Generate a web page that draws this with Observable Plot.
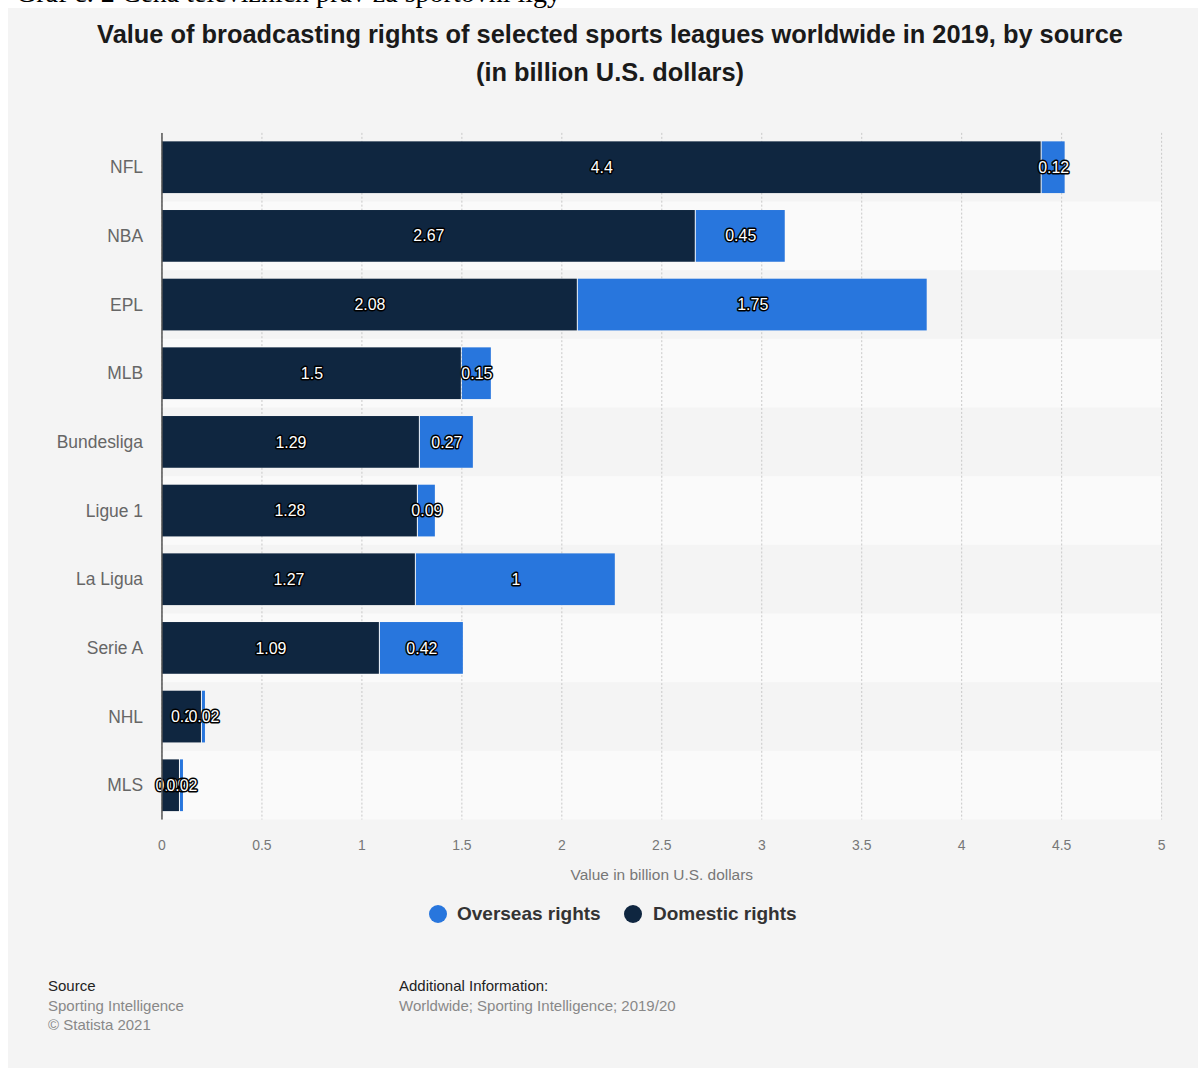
<!DOCTYPE html>
<html>
<head>
<meta charset="utf-8">
<script src="https://cdn.jsdelivr.net/npm/d3@7"></script>
<script src="https://cdn.jsdelivr.net/npm/@observablehq/plot@0.6"></script>
<style>
  html, body { margin: 0; padding: 0; background: #fff; }
  body { width: 1202px; height: 1070px; position: relative; overflow: hidden; font-family: "Liberation Sans", Arial, sans-serif; }
  #doc { position: absolute; left: 16px; top: -23px; font-family: "Liberation Serif", serif; font-size: 28px; line-height: 32px; color: #000; white-space: nowrap; }
  #panel { position: absolute; left: 8px; top: 8px; width: 1190px; height: 1060px; background: #f4f4f4; }
  #title { position: absolute; left: 0; top: 7px; width: 1204px; text-align: center; font-weight: bold; font-size: 25.4px; line-height: 38px; color: #1a1a1a; }
  #chart { position: absolute; left: -8px; top: 90px; }
  .li { position: absolute; font-weight: bold; font-size: 19px; color: #333; line-height: 20px; }
  .dot { position: absolute; width: 18px; height: 18px; border-radius: 50%; }
  .foot { position: absolute; font-size: 15px; line-height: 19.5px; color: #888; }
  .foot b { font-weight: normal; color: #222; }
</style>
</head>
<body>
<div id="doc">Graf č. 2 Cena televizních práv za sportovní ligy</div>
<div id="panel">
  <div id="title">Value of broadcasting rights of selected sports leagues worldwide in 2019, by source<br>(in billion U.S. dollars)</div>
  <div id="chart"></div>
  <div class="dot" style="left:421px; top:897px; background:#2876dd;"></div>
  <div class="li" style="left:449px; top:896px;">Overseas rights</div>
  <div class="dot" style="left:616px; top:897px; background:#0f2640;"></div>
  <div class="li" style="left:645px; top:896px;">Domestic rights</div>
  <div class="foot" style="left:40px; top:968px;"><b>Source</b><br>Sporting Intelligence<br>© Statista 2021</div>
  <div class="foot" style="left:391px; top:968px;"><b>Additional Information:</b><br>Worldwide; Sporting Intelligence; 2019/20</div>
</div>
<script>
const leagues = ["NFL", "NBA", "EPL", "MLB", "Bundesliga", "Ligue 1", "La Ligua", "Serie A", "NHL", "MLS"];
const domestic = [4.4, 2.67, 2.08, 1.5, 1.29, 1.28, 1.27, 1.09, 0.2, 0.09];
const overseas = [0.12, 0.45, 1.75, 0.15, 0.27, 0.09, 1, 0.42, 0.02, 0.02];
const xTicks = [0, 0.5, 1, 1.5, 2, 2.5, 3, 3.5, 4, 4.5, 5];
const seriesNames = ["Domestic rights", "Overseas rights"];
const seriesColors = ["#0f2640", "#2876dd"];

const rows = [];
leagues.forEach((l, i) => {
  rows.push({league: l, series: seriesNames[0], x1: 0, x2: domestic[i], v: domestic[i]});
  rows.push({league: l, series: seriesNames[1], x1: domestic[i], x2: domestic[i] + overseas[i], v: overseas[i]});
});
const stripes = leagues.map((l, i) => ({league: l, odd: i % 2 === 1}));

const chart = Plot.plot({
  width: 1202,
  height: 800,
  marginLeft: 162,
  marginRight: 37,
  marginTop: 35,
  marginBottom: 76,
  style: {background: "transparent", fontFamily: "Liberation Sans, Arial, sans-serif"},
  x: {domain: [0, 5], ticks: xTicks, tickFormat: d => String(d), label: null},
  y: {domain: leagues, paddingInner: 0, paddingOuter: 0, round: false, label: null},
  color: {domain: seriesNames, range: seriesColors},
  marks: [
    Plot.barX(stripes.filter(d => d.odd), {x1: 0, x2: 5, y: "league", fill: "#fafafa"}),
    Plot.gridX(xTicks, {stroke: "#c8c8c8", strokeOpacity: 1, strokeDasharray: "2,2"}),
    Plot.barX(rows, {x1: "x1", x2: "x2", y: "league", fill: "series", insetTop: 8.5, insetBottom: 8.5, insetLeft: 0.5, insetRight: 0.5}),
    Plot.text(rows, {x: d => (d.x1 + d.x2) / 2, y: "league", text: d => String(d.v), fill: "white", stroke: "black", strokeWidth: 3, fontSize: 16, textAnchor: "middle"}),
    Plot.ruleX([0], {stroke: "#555", strokeWidth: 1.5}),
    Plot.axisY({tickSize: 0, tickPadding: 19, fontSize: 17.5, color: "#666", label: null}),
    Plot.axisX(xTicks, {tickSize: 0, tickPadding: 20, fontSize: 14, color: "#777", label: null, tickFormat: d => String(d)}),
    Plot.text(["Value in billion U.S. dollars"], {frameAnchor: "bottom", dy: 60, fontSize: 15.5, fill: "#777"})
  ]
});
document.getElementById("chart").appendChild(chart);
</script>
</body>
</html>
